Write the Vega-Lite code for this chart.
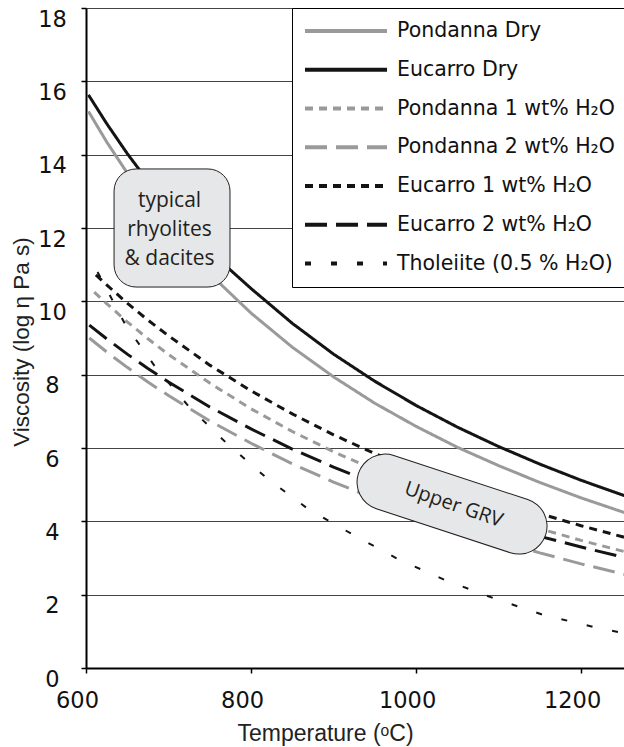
{
  "$schema": "https://vega.github.io/schema/vega-lite/v6.json",
  "width": 538,
  "height": 660,
  "autosize": {"type": "none"},
  "padding": {"left": 86, "top": 8, "right": 0, "bottom": 79},
  "background": "white",
  "config": {"view": {"stroke": null}},
  "layer": [
    {
      "data": {"values": [
        {"series": "Pondanna Dry", "T": 603, "V": 15.18},
        {"series": "Pondanna Dry", "T": 625, "V": 14.35},
        {"series": "Pondanna Dry", "T": 650, "V": 13.50},
        {"series": "Pondanna Dry", "T": 675, "V": 12.72},
        {"series": "Pondanna Dry", "T": 700, "V": 12.01},
        {"series": "Pondanna Dry", "T": 750, "V": 10.75},
        {"series": "Pondanna Dry", "T": 800, "V": 9.68},
        {"series": "Pondanna Dry", "T": 850, "V": 8.75},
        {"series": "Pondanna Dry", "T": 900, "V": 7.94},
        {"series": "Pondanna Dry", "T": 950, "V": 7.22},
        {"series": "Pondanna Dry", "T": 1000, "V": 6.59},
        {"series": "Pondanna Dry", "T": 1050, "V": 6.02},
        {"series": "Pondanna Dry", "T": 1100, "V": 5.52},
        {"series": "Pondanna Dry", "T": 1150, "V": 5.06},
        {"series": "Pondanna Dry", "T": 1200, "V": 4.64},
        {"series": "Pondanna Dry", "T": 1255, "V": 4.22},
        {"series": "Eucarro Dry", "T": 603, "V": 15.63},
        {"series": "Eucarro Dry", "T": 625, "V": 14.85},
        {"series": "Eucarro Dry", "T": 650, "V": 14.03},
        {"series": "Eucarro Dry", "T": 675, "V": 13.28},
        {"series": "Eucarro Dry", "T": 700, "V": 12.59},
        {"series": "Eucarro Dry", "T": 750, "V": 11.36},
        {"series": "Eucarro Dry", "T": 800, "V": 10.35},
        {"series": "Eucarro Dry", "T": 850, "V": 9.40},
        {"series": "Eucarro Dry", "T": 900, "V": 8.56},
        {"series": "Eucarro Dry", "T": 950, "V": 7.82},
        {"series": "Eucarro Dry", "T": 1000, "V": 7.16},
        {"series": "Eucarro Dry", "T": 1050, "V": 6.57},
        {"series": "Eucarro Dry", "T": 1100, "V": 6.04},
        {"series": "Eucarro Dry", "T": 1150, "V": 5.56},
        {"series": "Eucarro Dry", "T": 1200, "V": 5.12},
        {"series": "Eucarro Dry", "T": 1255, "V": 4.68},
        {"series": "Pondanna 1 wt% H₂O", "T": 610, "V": 10.25},
        {"series": "Pondanna 1 wt% H₂O", "T": 625, "V": 9.94},
        {"series": "Pondanna 1 wt% H₂O", "T": 650, "V": 9.44},
        {"series": "Pondanna 1 wt% H₂O", "T": 675, "V": 8.98},
        {"series": "Pondanna 1 wt% H₂O", "T": 700, "V": 8.55},
        {"series": "Pondanna 1 wt% H₂O", "T": 750, "V": 7.77},
        {"series": "Pondanna 1 wt% H₂O", "T": 800, "V": 7.07},
        {"series": "Pondanna 1 wt% H₂O", "T": 850, "V": 6.45},
        {"series": "Pondanna 1 wt% H₂O", "T": 900, "V": 5.90},
        {"series": "Pondanna 1 wt% H₂O", "T": 950, "V": 5.40},
        {"series": "Pondanna 1 wt% H₂O", "T": 1000, "V": 4.94},
        {"series": "Pondanna 1 wt% H₂O", "T": 1050, "V": 4.53},
        {"series": "Pondanna 1 wt% H₂O", "T": 1100, "V": 4.15},
        {"series": "Pondanna 1 wt% H₂O", "T": 1150, "V": 3.80},
        {"series": "Pondanna 1 wt% H₂O", "T": 1200, "V": 3.48},
        {"series": "Pondanna 1 wt% H₂O", "T": 1255, "V": 3.16},
        {"series": "Pondanna 2 wt% H₂O", "T": 604, "V": 9.00},
        {"series": "Pondanna 2 wt% H₂O", "T": 625, "V": 8.62},
        {"series": "Pondanna 2 wt% H₂O", "T": 650, "V": 8.20},
        {"series": "Pondanna 2 wt% H₂O", "T": 675, "V": 7.80},
        {"series": "Pondanna 2 wt% H₂O", "T": 700, "V": 7.43},
        {"series": "Pondanna 2 wt% H₂O", "T": 750, "V": 6.74},
        {"series": "Pondanna 2 wt% H₂O", "T": 800, "V": 6.13},
        {"series": "Pondanna 2 wt% H₂O", "T": 850, "V": 5.57},
        {"series": "Pondanna 2 wt% H₂O", "T": 900, "V": 5.07},
        {"series": "Pondanna 2 wt% H₂O", "T": 950, "V": 4.62},
        {"series": "Pondanna 2 wt% H₂O", "T": 1000, "V": 4.20},
        {"series": "Pondanna 2 wt% H₂O", "T": 1050, "V": 3.82},
        {"series": "Pondanna 2 wt% H₂O", "T": 1100, "V": 3.47},
        {"series": "Pondanna 2 wt% H₂O", "T": 1150, "V": 3.14},
        {"series": "Pondanna 2 wt% H₂O", "T": 1200, "V": 2.84},
        {"series": "Pondanna 2 wt% H₂O", "T": 1255, "V": 2.54},
        {"series": "Eucarro 1 wt% H₂O", "T": 612, "V": 10.72},
        {"series": "Eucarro 1 wt% H₂O", "T": 625, "V": 10.45},
        {"series": "Eucarro 1 wt% H₂O", "T": 650, "V": 9.95},
        {"series": "Eucarro 1 wt% H₂O", "T": 675, "V": 9.49},
        {"series": "Eucarro 1 wt% H₂O", "T": 700, "V": 9.06},
        {"series": "Eucarro 1 wt% H₂O", "T": 750, "V": 8.26},
        {"series": "Eucarro 1 wt% H₂O", "T": 800, "V": 7.56},
        {"series": "Eucarro 1 wt% H₂O", "T": 850, "V": 6.93},
        {"series": "Eucarro 1 wt% H₂O", "T": 900, "V": 6.36},
        {"series": "Eucarro 1 wt% H₂O", "T": 950, "V": 5.85},
        {"series": "Eucarro 1 wt% H₂O", "T": 1000, "V": 5.39},
        {"series": "Eucarro 1 wt% H₂O", "T": 1050, "V": 4.96},
        {"series": "Eucarro 1 wt% H₂O", "T": 1100, "V": 4.57},
        {"series": "Eucarro 1 wt% H₂O", "T": 1150, "V": 4.21},
        {"series": "Eucarro 1 wt% H₂O", "T": 1200, "V": 3.88},
        {"series": "Eucarro 1 wt% H₂O", "T": 1255, "V": 3.55},
        {"series": "Eucarro 2 wt% H₂O", "T": 604, "V": 9.35},
        {"series": "Eucarro 2 wt% H₂O", "T": 625, "V": 8.98},
        {"series": "Eucarro 2 wt% H₂O", "T": 650, "V": 8.56},
        {"series": "Eucarro 2 wt% H₂O", "T": 675, "V": 8.17},
        {"series": "Eucarro 2 wt% H₂O", "T": 700, "V": 7.80},
        {"series": "Eucarro 2 wt% H₂O", "T": 750, "V": 7.12},
        {"series": "Eucarro 2 wt% H₂O", "T": 800, "V": 6.52},
        {"series": "Eucarro 2 wt% H₂O", "T": 850, "V": 5.97},
        {"series": "Eucarro 2 wt% H₂O", "T": 900, "V": 5.48},
        {"series": "Eucarro 2 wt% H₂O", "T": 950, "V": 5.03},
        {"series": "Eucarro 2 wt% H₂O", "T": 1000, "V": 4.62},
        {"series": "Eucarro 2 wt% H₂O", "T": 1050, "V": 4.25},
        {"series": "Eucarro 2 wt% H₂O", "T": 1100, "V": 3.91},
        {"series": "Eucarro 2 wt% H₂O", "T": 1150, "V": 3.59},
        {"series": "Eucarro 2 wt% H₂O", "T": 1200, "V": 3.30},
        {"series": "Eucarro 2 wt% H₂O", "T": 1255, "V": 3.00},
        {"series": "Tholeiite (0.5 % H₂O)", "T": 614, "V": 10.80},
        {"series": "Tholeiite (0.5 % H₂O)", "T": 648, "V": 9.35},
        {"series": "Tholeiite (0.5 % H₂O)", "T": 685, "V": 8.18},
        {"series": "Tholeiite (0.5 % H₂O)", "T": 725, "V": 7.12},
        {"series": "Tholeiite (0.5 % H₂O)", "T": 770, "V": 6.14},
        {"series": "Tholeiite (0.5 % H₂O)", "T": 819, "V": 5.18},
        {"series": "Tholeiite (0.5 % H₂O)", "T": 869, "V": 4.34},
        {"series": "Tholeiite (0.5 % H₂O)", "T": 924, "V": 3.63},
        {"series": "Tholeiite (0.5 % H₂O)", "T": 978, "V": 2.97},
        {"series": "Tholeiite (0.5 % H₂O)", "T": 1035, "V": 2.40},
        {"series": "Tholeiite (0.5 % H₂O)", "T": 1093, "V": 1.91},
        {"series": "Tholeiite (0.5 % H₂O)", "T": 1154, "V": 1.45},
        {"series": "Tholeiite (0.5 % H₂O)", "T": 1215, "V": 1.12},
        {"series": "Tholeiite (0.5 % H₂O)", "T": 1245, "V": 0.98},
        {"series": "Tholeiite (0.5 % H₂O)", "T": 1255, "V": 0.94}
      ]},
      "mark": {"type": "line", "clip": true, "strokeCap": "butt"},
      "encoding": {
        "x": {
          "field": "T", "type": "quantitative", "title": "Temperature (ᵒC)",
          "scale": {"domain": [600, 1252], "nice": false, "zero": false},
          "axis": {
            "values": [600, 800, 1000, 1200], "grid": false, "format": "d",
            "domainColor": "#000", "domainWidth": 2,
            "tickColor": "#000", "tickSize": 5, "tickWidth": 1.5,
            "labelFont": "DejaVu Sans", "labelFontSize": 22.5, "labelColor": "#111",
            "labelPadding": 16, "labelBaseline": "top", "labelOffset": -9,
            "labelFlush": false, "labelOverlap": false,
            "titleFont": "Liberation Sans", "titleFontSize": 23, "titleFontWeight": "normal",
            "titleColor": "#222", "titleX": 239, "titleY": 72,
            "titleAlign": "center", "titleBaseline": "alphabetic"
          }
        },
        "y": {
          "field": "V", "type": "quantitative", "title": "Viscosity (log η Pa s)",
          "scale": {"domain": [0, 18], "nice": false},
          "axis": {
            "values": [0, 2, 4, 6, 8, 10, 12, 14, 16, 18], "grid": true, "format": "d",
            "gridColor": "#444", "gridWidth": 1,
            "domainColor": "#000", "domainWidth": 2,
            "tickColor": "#000", "tickSize": 5, "tickWidth": 1.5,
            "labelFont": "DejaVu Sans", "labelFontSize": 22.5, "labelColor": "#111",
            "labelAlign": "center", "labelPadding": 29, "labelBaseline": "middle",
            "labelOffset": 11, "labelFlush": false, "labelOverlap": false,
            "titleFont": "Liberation Sans", "titleFontSize": 22.5, "titleFontWeight": "normal",
            "titleColor": "#222", "titleX": -57.5, "titleY": 333.5,
            "titleAlign": "center", "titleBaseline": "alphabetic", "titleAngle": 270
          }
        },
        "color": {
          "field": "series", "type": "nominal",
          "scale": {
            "domain": ["Pondanna Dry", "Eucarro Dry", "Pondanna 1 wt% H₂O", "Pondanna 2 wt% H₂O", "Eucarro 1 wt% H₂O", "Eucarro 2 wt% H₂O", "Tholeiite (0.5 % H₂O)"],
            "range": ["#9a9a9a", "#141414", "#9a9a9a", "#9a9a9a", "#141414", "#141414", "#141414"]
          },
          "legend": {
            "orient": "none", "legendX": 206, "legendY": 0, "title": null,
            "symbolType": "stroke", "symbolSize": 6724, "symbolStrokeWidth": 4,
            "clipHeight": 24, "rowPadding": 14.75, "padding": 11,
            "labelFont": "DejaVu Sans", "labelFontSize": 20.5, "labelColor": "#111",
            "labelOffset": 8, "labelLimit": 400,
            "strokeColor": "#000", "fillColor": "#fff", "symbolOpacity": 1,
            "encode": {
              "symbols": {
                "update": {
                  "strokeDash": {"signal": "indexof(datum.value, '1 wt') >= 0 ? [5, 2.7] : indexof(datum.value, '2 wt') >= 0 ? [12, 5.5] : indexof(datum.value, 'Thol') >= 0 ? [4, 15.5] : [1, 0]"},
                  "strokeWidth": {"value": 4}
                }
              }
            }
          }
        },
        "strokeDash": {
          "field": "series", "type": "nominal",
          "scale": {
            "domain": ["Pondanna Dry", "Eucarro Dry", "Pondanna 1 wt% H₂O", "Pondanna 2 wt% H₂O", "Eucarro 1 wt% H₂O", "Eucarro 2 wt% H₂O", "Tholeiite (0.5 % H₂O)"],
            "range": [[1, 0], [1, 0], [8, 6], [22, 9], [8, 6], [22, 9], [6, 20]]
          },
          "legend": null
        },
        "strokeWidth": {
          "condition": {"test": "datum.series === 'Tholeiite (0.5 % H₂O)'", "value": 2},
          "value": 3
        }
      }
    },
    {
      "data": {"values": [{"T": 634, "T2": 774.5, "V": 13.61, "V2": 10.39}]},
      "mark": {"type": "rect", "fill": "#e6e7e8", "stroke": "#231f20", "strokeWidth": 1, "cornerRadius": 22},
      "encoding": {
        "x": {"field": "T", "type": "quantitative", "title": "Temperature (ᵒC)"},
        "x2": {"field": "T2"},
        "y": {"field": "V", "type": "quantitative", "title": "Viscosity (log η Pa s)"},
        "y2": {"field": "V2"}
      }
    },
    {
      "data": {"values": [{"T": 701.2, "V": 12.74, "label": "typical\nrhyolites\n& dacites"}]},
      "mark": {"type": "text", "font": "Open Sans", "fontSize": 21, "lineBreak": "\n", "lineHeight": 29, "align": "center", "baseline": "middle", "color": "#231f20"},
      "encoding": {
        "x": {"field": "T", "type": "quantitative", "title": "Temperature (ᵒC)"},
        "y": {"field": "V", "type": "quantitative", "title": "Viscosity (log η Pa s)"},
        "text": {"field": "label"}
      }
    },
    {
      "data": {"values": [{"T": 962.4, "V": 5.07}, {"T": 1124.8, "V": 3.87}]},
      "mark": {"type": "line", "stroke": "#231f20", "strokeWidth": 57, "strokeCap": "round"},
      "encoding": {
        "x": {"field": "T", "type": "quantitative", "title": "Temperature (ᵒC)"},
        "y": {"field": "V", "type": "quantitative", "title": "Viscosity (log η Pa s)"}
      }
    },
    {
      "data": {"values": [{"T": 962.4, "V": 5.07}, {"T": 1124.8, "V": 3.87}]},
      "mark": {"type": "line", "stroke": "#e6e7e8", "strokeWidth": 55, "strokeCap": "round"},
      "encoding": {
        "x": {"field": "T", "type": "quantitative", "title": "Temperature (ᵒC)"},
        "y": {"field": "V", "type": "quantitative", "title": "Viscosity (log η Pa s)"}
      }
    },
    {
      "data": {"values": [{"T": 1045.4, "V": 4.45, "label": "Upper GRV"}]},
      "mark": {"type": "text", "font": "Open Sans", "fontSize": 20, "angle": 19, "align": "center", "baseline": "middle", "color": "#231f20"},
      "encoding": {
        "x": {"field": "T", "type": "quantitative", "title": "Temperature (ᵒC)"},
        "y": {"field": "V", "type": "quantitative", "title": "Viscosity (log η Pa s)"},
        "text": {"field": "label"}
      }
    }
  ]
}
